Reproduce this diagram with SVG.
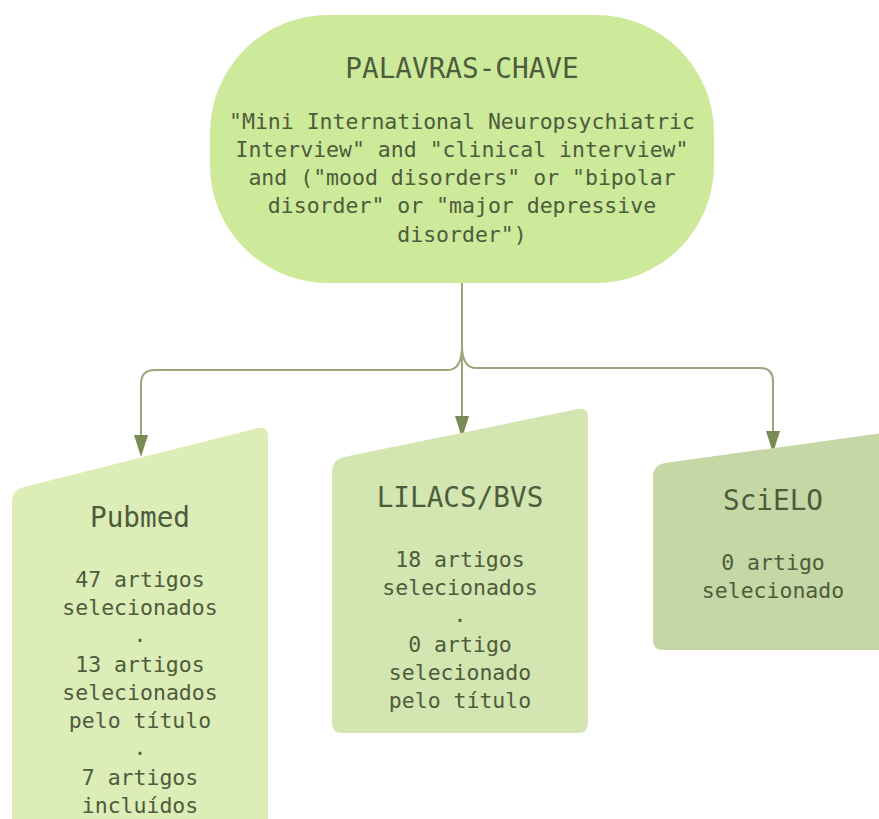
<svg xmlns="http://www.w3.org/2000/svg" width="879" height="819" viewBox="0 0 879 819">
<style>
  .t { font-family: "DejaVu Sans Mono", "Liberation Mono", monospace; fill: #4d5c3c; text-anchor: middle; }
  .title { font-size: 27.7px; }
  .body { font-size: 21.5px; }
  .conn { fill: none; stroke: #9aa67c; stroke-width: 2; }
  .ah { fill: #7a8a55; }
</style>
<rect width="879" height="819" fill="#ffffff"/>

<g id="connectors">
  <path class="conn" d="M462,283 L462,418"/>
  <path class="ah" d="M455,416 L469,416 L462,438 Z"/>
  <path class="conn" d="M462,345 Q462,370 448,370 L155,370 Q141,370 141,384 L141,437"/>
  <path class="ah" d="M134,435 L148,435 L141,457 Z"/>
  <path class="conn" d="M462,345 Q462,368 476,368 L760,368 Q773,368 773,381 L773,433"/>
  <path class="ah" d="M766,431 L780,431 L773,453 Z"/>
</g>

<g id="keywords">
  <rect x="210" y="15" width="504" height="268" rx="118" ry="118" fill="#cde99a"/>
  <text class="t title" x="462" y="78">PALAVRAS-CHAVE</text>
  <text class="t body" x="462" y="129">"Mini International Neuropsychiatric</text>
  <text class="t body" x="462" y="157">Interview" and "clinical interview"</text>
  <text class="t body" x="462" y="185">and ("mood disorders" or "bipolar</text>
  <text class="t body" x="462" y="213">disorder" or "major depressive</text>
  <text class="t body" x="462" y="242">disorder")</text>
</g>

<g id="pubmed">
  <path d="M12,502 Q12,490 24,487 L258,428 Q268,426 268,436 L268,830 L12,830 Z" fill="#dcedb8"/>
  <text class="t title" x="140" y="527">Pubmed</text>
  <text class="t body" x="140" y="587">47 artigos</text>
  <text class="t body" x="140" y="615">selecionados</text>
  <text class="t body" x="140" y="642">.</text>
  <text class="t body" x="140" y="672">13 artigos</text>
  <text class="t body" x="140" y="700">selecionados</text>
  <text class="t body" x="140" y="728">pelo título</text>
  <text class="t body" x="140" y="755">.</text>
  <text class="t body" x="140" y="785">7 artigos</text>
  <text class="t body" x="140" y="813">incluídos</text>
</g>

<g id="lilacs">
  <path d="M332,472 Q332,460 344,457 L578,409 Q588,407 588,417 L588,723 Q588,733 578,733 L342,733 Q332,733 332,723 Z" fill="#d3e5b0"/>
  <text class="t title" x="460" y="507">LILACS/BVS</text>
  <text class="t body" x="460" y="567">18 artigos</text>
  <text class="t body" x="460" y="595">selecionados</text>
  <text class="t body" x="460" y="622">.</text>
  <text class="t body" x="460" y="652">0 artigo</text>
  <text class="t body" x="460" y="680">selecionado</text>
  <text class="t body" x="460" y="708">pelo título</text>
</g>

<g id="scielo">
  <path d="M653,477 Q653,465 665,463 L890,432 L890,650 L663,650 Q653,650 653,640 Z" fill="#c5d7a4"/>
  <text class="t title" x="773" y="510">SciELO</text>
  <text class="t body" x="773" y="570">0 artigo</text>
  <text class="t body" x="773" y="598">selecionado</text>
</g>
</svg>
